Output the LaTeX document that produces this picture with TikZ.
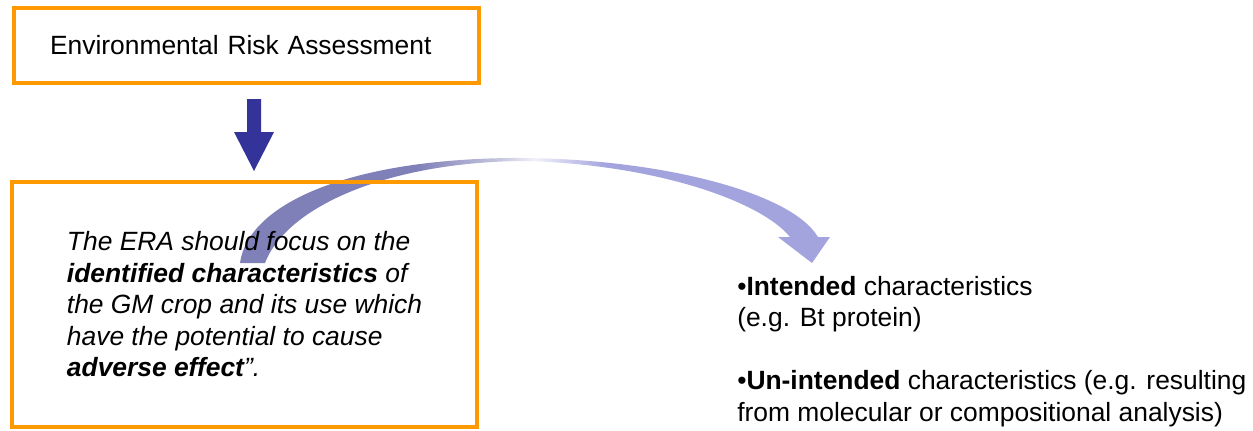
\documentclass[tikz,border=0pt]{standalone}
\usepackage{fontspec}
\setmainfont{Liberation Sans}
\usetikzlibrary{arrows,shapes,calc}

\definecolor{eraorange}{RGB}{255,153,0}
\definecolor{eranavy}{RGB}{51,51,153}
\definecolor{arcleft}{RGB}{128,128,184}
\definecolor{arcright}{RGB}{163,163,222}
\pgfdeclarehorizontalshading{arcfade}{100bp}{color(0bp)=(arcleft); color(40bp)=(arcleft);
color(47bp)=(arcleft!45!white); color(50bp)=(arcright!15!white); color(56bp)=(arcright);
color(100bp)=(arcright)}

\begin{document}
\begin{tikzpicture}[x=0.75pt,y=-0.75pt,
font=\fontsize{19.8}{23.6}\selectfont]
\tikzstyle{erabox}=[rectangle, draw=eraorange, line width=3pt,
minimum width=349.1pt, align=left]

\useasboundingbox (0,0) rectangle (1253,430);

% curved arrow towards the characteristics
\shade[shading=arcfade] (240,263) .. controls (248,205) and (345,160) .. (510,158)
.. controls (650,157) and (790,190) .. (818,237) -- (830,237) -- (812,263)
-- (778,237) -- (790,237) .. controls (760,200) and (650,163) .. (520,161)
.. controls (380,163) and (285,210) .. (265,263) -- cycle;

\node[erabox, minimum height=56.25pt, text width=295.1pt]
(era) at (246.75,45.5) {Environmental Risk Assessment};

\node[erabox, minimum height=184.1pt, font=\fontsize{19.8}{23.6}\selectfont\itshape]
(focus) at (244.5,304.25) {The ERA should focus on the\\
\textbf{identified characteristics} of\\
the GM crop and its use which\\
have the potential to cause\\
\textbf{adverse effect}”.};

\node[anchor=base west, align=left, inner sep=0pt]
(traits) at (737,421) {•\textbf{Intended} characteristics\\
(e.g. Bt protein)\\[23.6pt]
•\textbf{Un-intended} characteristics (e.g. resulting\\
from molecular or compositional analysis)};

% block arrow between the boxes
\fill[eranavy] (247,99) -- (261,99) -- (261,132) -- (274,132) -- (254,171)
-- (234,132) -- (247,132) -- cycle;

\end{tikzpicture}
\end{document}
